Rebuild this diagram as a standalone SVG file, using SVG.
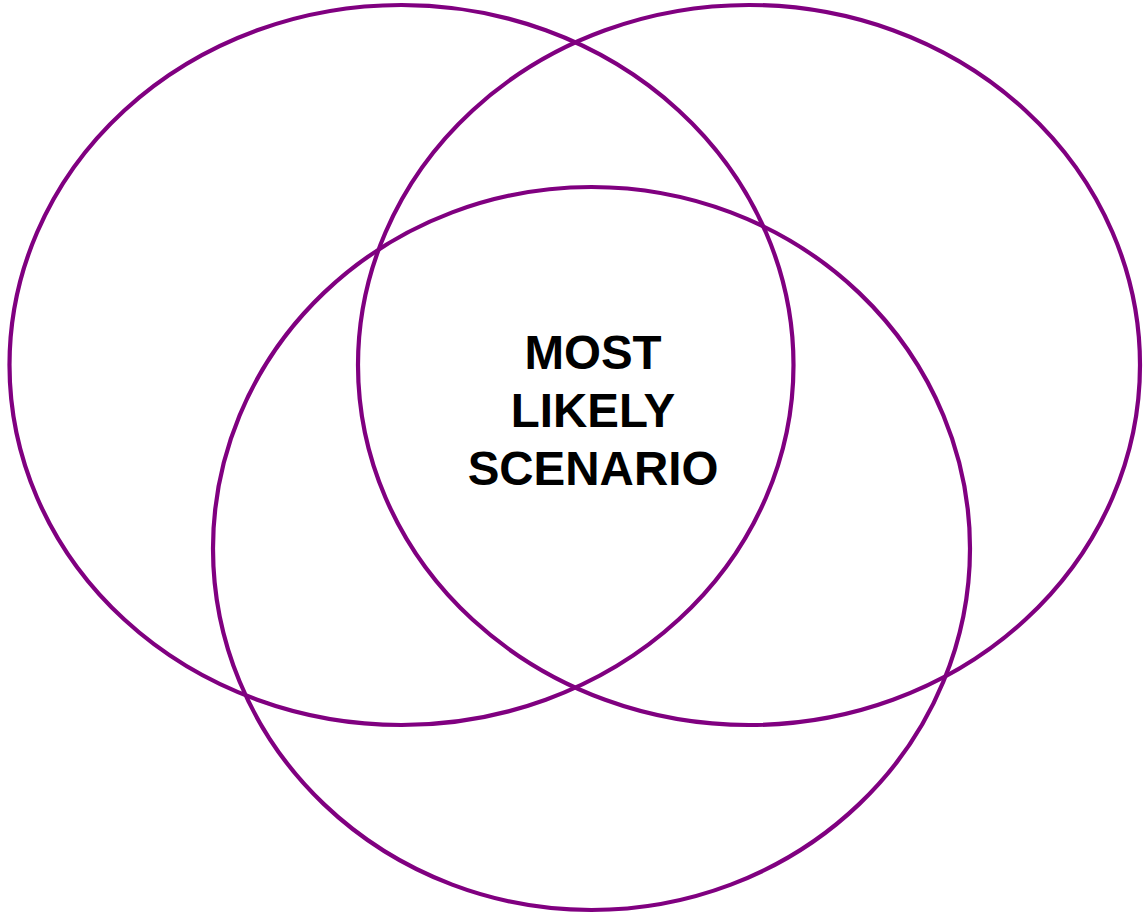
<svg xmlns="http://www.w3.org/2000/svg" width="1144" height="916" viewBox="0 0 1144 916">
<style>
.c{fill:none;stroke:#800080;stroke-width:4.2}
.t{font-family:"Liberation Sans",Arial,sans-serif;font-weight:bold;font-size:47.5px;fill:#000;text-anchor:middle}
</style>
<rect width="1144" height="916" fill="#fff"/>
<g id="left"><ellipse class="c" cx="401.5" cy="365" rx="392" ry="360"/></g>
<g id="right"><ellipse class="c" cx="749" cy="365" rx="391" ry="360"/></g>
<g id="bottom"><ellipse class="c" cx="591.5" cy="548.5" rx="378.5" ry="361.5"/></g>
<g id="label">
<text class="t" x="593" y="369">MOST</text>
<text class="t" x="593" y="427">LIKELY</text>
<text class="t" x="593" y="485">SCENARIO</text>
</g>
</svg>
